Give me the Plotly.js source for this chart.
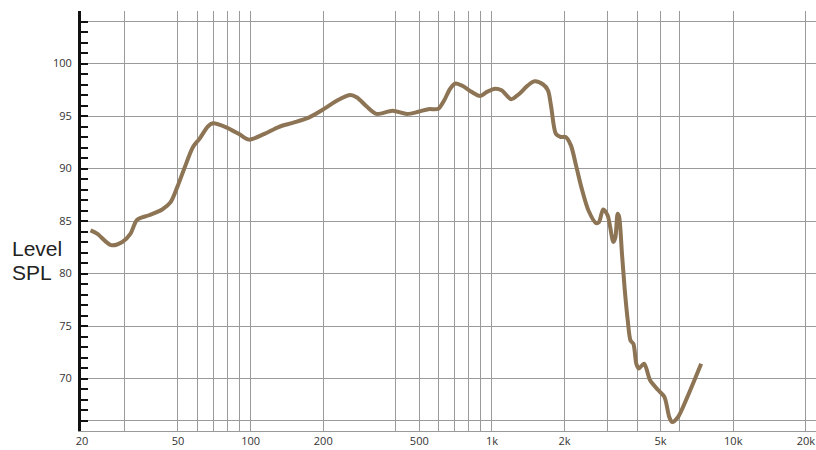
<!DOCTYPE html>
<html>
<head>
<meta charset="utf-8">
<script src="https://cdn.plot.ly/plotly-3.0.1.min.js"></script>
<style>html,body{margin:0;padding:0;background:#fff;}#chart{width:816px;height:450px;}</style>
</head>
<body>
<div id="chart"></div>
<script>
// Frequency response (Hz) and level (dB SPL)
const freqHz = [21.7, 23.1, 26.4, 29.4, 31.8, 33.8, 37.9, 43.0, 46.6, 49.7,
  53.1, 57.7, 61.5, 66.5, 69.8, 78.8, 89.2, 98.3, 114.1, 130.6,
  149.5, 174.1, 202.4, 229.3, 259.3, 276.0, 302.8, 332.2, 387.7, 444.8,
  494.8, 545.1, 600, 634.4, 671.1, 706.7, 757.8, 822.0, 893.9, 953.4,
  1030.7, 1096.0, 1201.2, 1296.5, 1398.4, 1501.3, 1630.4, 1707.0, 1759.5, 1841.5,
  1928.0, 2020.2, 2124.3, 2233.6, 2348.5, 2511.9, 2703.0, 2777.2, 2890.7, 3014.8,
  3185.5, 3246.3, 3319.1, 3365.8, 3458.3, 3553.4, 3654.0, 3754.5, 3857.7, 3967.4,
  4061.5, 4272.0, 4530.6, 4883.9, 5184.3, 5436.0, 5581.3, 5895.6, 6458.6, 7363.3];
const levelDb = [84.1, 83.8, 82.7, 83.0, 83.8, 85.1, 85.55, 86.1, 86.8, 88.25,
  90.0, 92.05, 92.85, 94.0, 94.3, 93.95, 93.3, 92.75, 93.3, 93.95,
  94.35, 94.85, 95.7, 96.5, 97.0, 96.76, 95.9, 95.2, 95.5, 95.2,
  95.4, 95.65, 95.7, 96.5, 97.6, 98.1, 97.85, 97.3, 96.9, 97.3,
  97.6, 97.45, 96.6, 97.1, 97.85, 98.3, 98.0, 97.45, 95.9, 93.3,
  93.0, 93.0, 92.2, 90.25, 88.2, 86.0, 84.8, 84.9, 86.1, 85.55,
  83.0, 83.4, 85.7, 85.4, 81.9, 78.4, 75.55, 73.6, 73.3, 71.4,
  70.95, 71.4, 69.8, 68.9, 68.25, 66.3, 65.85, 66.3, 68.25, 71.4];

// Axis ticks / gridlines
const xGridHz = [20, 30, 50, 60, 70, 80, 90, 100, 200, 400, 500, 600, 700, 800, 900,
  1000, 2000, 3000, 4000, 5000, 6000, 10000, 20000];
const xGridText = ['20', '', '50', '', '', '', '', '100', '200', '', '500', '', '', '', '',
  '1k', '2k', '', '', '5k', '', '10k', '20k'];
const yGridDb = [66, 70, 75, 80, 85, 90, 95, 100, 104];
const yGridText = ['', '70', '75', '80', '85', '90', '95', '100', ''];
const yTitleLines = ['Level', 'SPL'];

const trace = {
  x: freqHz, y: levelDb, type: 'scatter', mode: 'lines',
  line: {color: '#8C7454', width: 4, shape: 'spline', smoothing: 0.8},
  hoverinfo: 'skip'
};

const titleFont = {family: 'Liberation Sans, Arial, sans-serif', size: 21, color: '#222'};

const layout = {
  width: 816, height: 450,
  margin: {l: 81, r: 0, t: 11, b: 19},
  paper_bgcolor: '#ffffff', plot_bgcolor: '#ffffff',
  showlegend: false,
  font: {family: 'Open Sans, sans-serif', size: 11, color: '#444'},
  xaxis: {
    type: 'log',
    range: [Math.log10(20) - 0.004, 4.343],
    tickmode: 'array', tickvals: xGridHz, ticktext: xGridText,
    showgrid: true, gridcolor: '#9a9a9a', gridwidth: 1,
    ticks: '', showline: true, linecolor: '#9a9a9a', linewidth: 1,
    zeroline: false, ticklabeloverflow: 'allow',
    tickfont: {family: 'Open Sans, sans-serif', size: 11, color: '#333'},
    fixedrange: true
  },
  yaxis: {
    range: [65, 105],
    tickmode: 'array', tickvals: yGridDb, ticktext: yGridText,
    showgrid: true, gridcolor: '#9a9a9a', gridwidth: 1,
    ticks: 'inside', ticklen: 7, tickwidth: 2, tickcolor: '#111',
    minor: {dtick: 1, tick0: 0, ticks: 'inside', ticklen: 7, tickwidth: 2, tickcolor: '#111', showgrid: false},
    showline: true, linecolor: '#111', linewidth: 3,
    zeroline: false, ticklabelstandoff: 4,
    tickfont: {family: 'Open Sans, sans-serif', size: 11, color: '#333'},
    fixedrange: true
  },
  annotations: [
    {xref: 'paper', yref: 'paper', x: -0.0966, y: 0.435, xanchor: 'left', yanchor: 'middle',
     showarrow: false, text: yTitleLines[0], font: titleFont},
    {xref: 'paper', yref: 'paper', x: -0.0966, y: 0.378, xanchor: 'left', yanchor: 'middle',
     showarrow: false, text: yTitleLines[1], font: titleFont}
  ]
};

Plotly.newPlot('chart', [trace], layout, {displayModeBar: false, staticPlot: true});
</script>
</body>
</html>
